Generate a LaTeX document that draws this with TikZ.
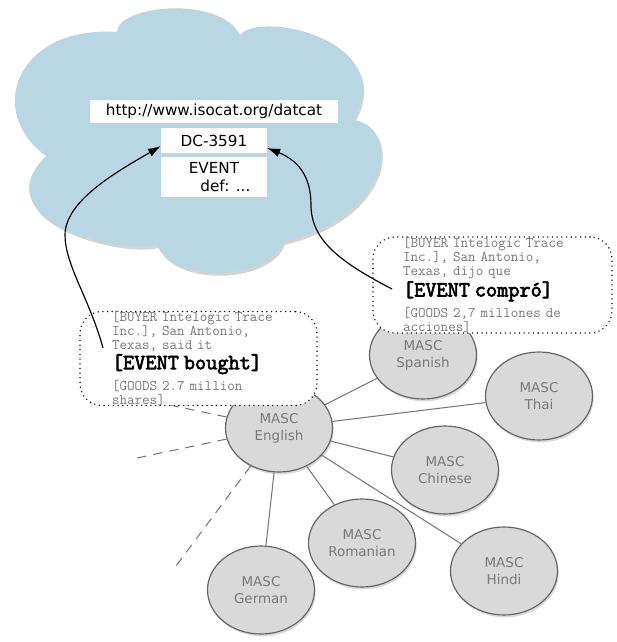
\documentclass[tikz,border=0pt]{standalone}
\usepackage{fontspec}
\usetikzlibrary{arrows,arrows.meta,shapes,shapes.geometric,shadows,calc}
\newfontfamily\lucida{DejaVu Sans}
\newfontfamily\eventfont[FakeBold=3]{Latin Modern Mono}
\def\pxl{0.03cm}
\definecolor{cloudblue}{RGB}{184,215,227}
\definecolor{mascfill}{RGB}{217,217,217}
\definecolor{mascline}{RGB}{100,100,100}
\definecolor{textgray}{RGB}{120,120,120}
\tikzset{
    cloudfill/.style = {fill=cloudblue,
        drop shadow={opacity=0.35, shadow xshift=1.5pt, shadow yshift=-2.5pt}},
    catbox/.style = {fill=white, inner sep=0pt, align=center,
        font=\lucida\fontsize{13}{15.4}\selectfont},
    masc/.style = {ellipse, draw=mascline, line width=1pt, fill=mascfill,
        minimum width=107*\pxl, minimum height=88*\pxl, inner sep=0pt,
        align=center, text=textgray, font=\lucida\fontsize{11.5}{14.5}\selectfont,
        drop shadow={opacity=0.3, shadow xshift=1pt, shadow yshift=-2pt}},
    note/.style = {draw, line width=1.3pt, line cap=round, dash pattern=on 0pt off 4pt,
        rounded corners=22*\pxl, fill=white, inner ysep=0pt,
        align=left, text=textgray, font=\ttfamily\fontsize{12.5}{12}\selectfont},
    link/.style = {draw, textgray, line width=0.9pt},
    dashlink/.style = {link, dash pattern=on 8pt off 6pt},
    arrow/.style = {draw, ->, line width=1pt}
}
\newcommand{\eventtag}[1]{{\eventfont\fontsize{18.5}{16}\selectfont\color{black}#1}}

\begin{document}
\begin{tikzpicture}[x=0.03cm, y=-0.03cm, >={Latex[length=11pt,width=7.5pt]}]
    \useasboundingbox (0,0) rectangle (617,642);
    % data category registry
    \path [cloudfill] (47,155) .. controls (-15,115) and (15,25) .. (117,32)
        .. controls (118,5) and (220,-5) .. (240,35)
        .. controls (260,10) and (400,40) .. (353,120)
        .. controls (400,125) and (395,215) .. (283,242)
        .. controls (270,280) and (175,285) .. (157,245)
        .. controls (120,255) and (-20,220) .. (47,155) -- cycle;
    \node [catbox, minimum width=248*\pxl, minimum height=23*\pxl] (url) at (214,111.5) {http://www.isocat.org/datcat};
    \node [catbox, minimum width=106*\pxl, minimum height=25*\pxl, below of=url, node distance=29*\pxl] (dc) {DC-3591};
    \node [catbox, minimum width=106*\pxl, minimum height=40*\pxl, below of=dc, node distance=36.5*\pxl] (def) {EVENT\\\hspace*{1.5em}def: ...};
    % corpora
    \node [masc] (english) at (279,428) {MASC\\English};
    \node [masc] (spanish) at (423,355) {MASC\\Spanish};
    \node [masc] (thai) at (539,396) {MASC\\Thai};
    \node [masc] (chinese) at (445,470) {MASC\\Chinese};
    \node [masc] (romanian) at (362,543) {MASC\\Romanian};
    \node [masc] (hindi) at (504,571) {MASC\\Hindi};
    \node [masc] (german) at (261,590) {MASC\\German};
    \foreach \lang in {spanish,thai,chinese,romanian,hindi,german}{
        \draw [link] (english) -- (\lang);
    }
    \coordinate (openA) at (165,404);
    \coordinate (openB) at (137,458);
    \coordinate (openC) at (173,570);
    \foreach \open in {openA,openB,openC}{
        \draw [dashlink] (english) -- (\open);
    }
    % annotations
    \node [note, inner xsep=32*\pxl, text width=173*\pxl, minimum height=91*\pxl] (boughtnote) at (198.5,358.5)
        {[BUYER Intelogic Trace\\Inc.], San Antonio,\\Texas, said it\\[1pt]\eventtag{[EVENT bought]}\\[4pt][GOODS 2.7 million\\shares]};
    \node [note, inner xsep=30*\pxl, text width=179*\pxl, minimum height=96*\pxl] (compronote) at (492.5,285)
        {[BUYER Intelogic Trace\\Inc.], San Antonio,\\Texas, dijo que\\[1pt]\eventtag{[EVENT compró]}\\[4pt][GOODS 2,7 millones de\\acciones]};
    \coordinate (boughttail) at (103,348);
    \coordinate (comprotail) at (392,289);
    \draw [arrow] (boughttail) .. controls (90,300) and (65,265) .. (65,235)
        .. controls (65,200) and (120,170) .. (dc.186);
    \draw [arrow] (comprotail) .. controls (340,262) and (311,240) .. (311,205)
        .. controls (311,175) and (297,160) .. (dc.-8);
\end{tikzpicture}
\end{document}
